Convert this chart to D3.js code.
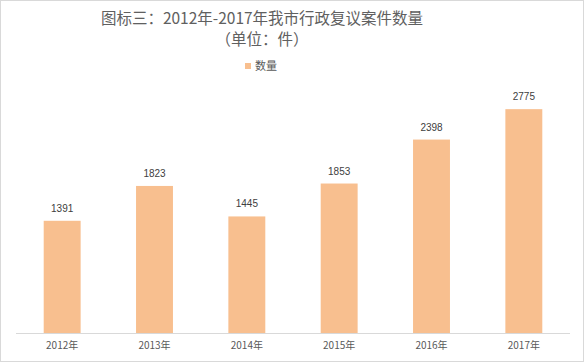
<!DOCTYPE html>
<html>
<head>
<meta charset="utf-8">
<script src="https://cdn.jsdelivr.net/npm/d3@7"></script>
<style>
  body { margin: 0; background: #fff; }
  svg { display: block; font-family: "Noto Sans CJK SC", "Liberation Sans", sans-serif; }
</style>
</head>
<body>
<svg width="586" height="363"></svg>
<script>
(function () {

  const years = ["2012年", "2013年", "2014年", "2015年", "2016年", "2017年"];
  const counts = [1391, 1823, 1445, 1853, 2398, 2775];
  const seriesName = "数量";
  const titleLines = ["图标三：2012年-2017年我市行政复议案件数量", "（单位：件）"];

  const barColor = "#F8BF8F";

  const svg = d3.select("svg");
  const width = +svg.attr("width");
  const height = +svg.attr("height");

  // chart frame
  svg.append("rect")
    .attr("x", 0.5).attr("y", 0.5)
    .attr("width", width - 3).attr("height", height - 2)
    .attr("fill", "#fff")
    .attr("stroke", "#d9d9d9");

  const x = d3.scaleBand()
    .domain(years)
    .range([16, 570])
    .paddingInner(0.6)
    .paddingOuter(0.3);

  const y = d3.scaleLinear()
    .domain([0, 3000])
    .range([333, 91]);

  // title
  svg.append("g")
    .selectAll("text")
    .data(titleLines)
    .enter().append("text")
    .attr("x", 262)
    .attr("y", (d, i) => 24 + i * 21)
    .attr("text-anchor", "middle")
    .attr("font-size", 15.5)
    .attr("fill", "#606060")
    .text(d => d);

  // legend
  const legend = svg.append("g").attr("transform", "translate(245,63)");
  legend.append("rect")
    .attr("width", 6).attr("height", 6)
    .attr("fill", barColor);
  legend.append("text")
    .attr("x", 10).attr("y", 7)
    .attr("font-size", 11)
    .attr("fill", "#595959")
    .text(seriesName);

  const data = years.map((yr, i) => ({ year: yr, value: counts[i] }));

  svg.append("g")
    .selectAll("rect")
    .data(data)
    .enter().append("rect")
    .attr("x", d => x(d.year))
    .attr("y", d => y(d.value))
    .attr("width", x.bandwidth())
    .attr("height", d => y(0) - y(d.value))
    .attr("fill", barColor);

  svg.append("g")
    .selectAll("text")
    .data(data)
    .enter().append("text")
    .attr("x", d => x(d.year) + x.bandwidth() / 2)
    .attr("y", d => y(d.value) - 9)
    .attr("text-anchor", "middle")
    .attr("font-family", "Liberation Sans, sans-serif")
    .attr("font-size", 10)
    .attr("fill", "#404040")
    .text(d => d.value);

  // category axis
  const axis = svg.append("g")
    .attr("transform", `translate(0,${y(0)})`)
    .call(d3.axisBottom(x).tickSize(0).tickPadding(9));
  axis.select(".domain").attr("stroke", "#d9d9d9").attr("d", "M16,0.5H570");
  axis.selectAll("text")
    .attr("font-family", "Noto Sans CJK SC, sans-serif")
    .attr("font-size", 10)
    .attr("fill", "#595959");

}());
</script>
</body>
</html>
